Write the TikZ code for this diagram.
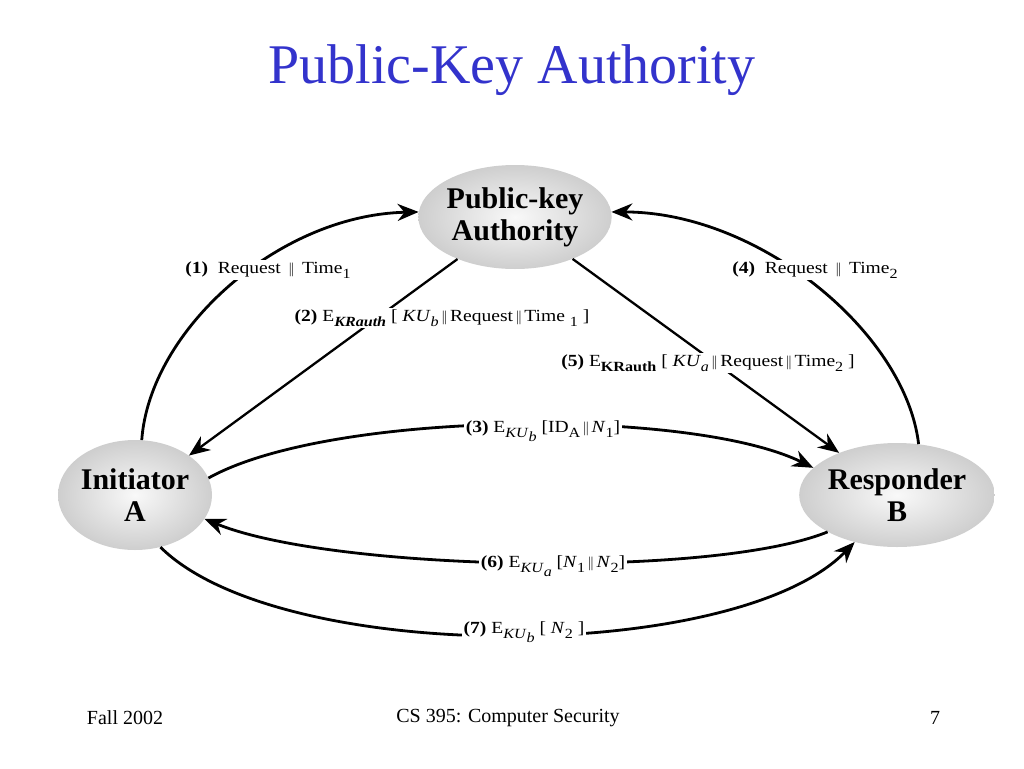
\documentclass[tikz,border=0pt]{standalone}
\usepackage{fontspec}
\setmainfont{Liberation Serif}
\usetikzlibrary{shapes.geometric,arrows.meta}
\definecolor{titleblue}{RGB}{51,51,204}
\pgfdeclareradialshading{nodeball}{\pgfpoint{0bp}{0bp}}{color(0bp)=(gray!5); color(30bp)=(gray!45); color(50bp)=(gray!105!black)}
\newcommand{\lo}[1]{\raisebox{-0.3em}{\fontsize{14}{14}\selectfont #1}}
\newcommand{\dbar}{\,{\fontsize{15}{15}\selectfont\addfontfeatures{FakeStretch=0.7}||}\,}

\begin{document}
\begin{tikzpicture}[x=1pt, y=-1pt,
	party/.style={ellipse, shading=nodeball, inner sep=0pt, align=center,
		font=\fontsize{30}{32}\selectfont\bfseries},
	msg/.style={line width=2.8pt, -{Stealth[length=21pt,width=17pt]}},
	lbl/.style={fill=white, inner sep=1.5pt, xscale=1.15, transform shape,
		font=\fontsize{17}{19}\selectfont}]
{
	\useasboundingbox (0,0) rectangle (1024,768);
	\node[text=titleblue, font=\fontsize{56}{60}\selectfont] (Title) at (512,70) {Public-Key Authority};

	\node[party, minimum width=152pt, minimum height=104pt] (auth) at (515,217) {Public-key\\Authority};
	\node[party, minimum width=154pt, minimum height=110pt] (initA) at (135,495) {Initiator\\A};
	\node[party, minimum width=156pt, minimum height=104pt] (respB) at (897,495) {Responder\\B};

	\draw[msg] (initA.83) .. controls +(8,-110) and +(-140,3) .. (auth.177);
	\draw[msg, line width=2.3pt] (auth) -- (initA);
	\draw[msg] (initA.13) .. controls +(122,-68) and +(-122,-60) .. (respB.162);
	\draw[msg] (respB.67) .. controls +(-13,-111) and +(148,0) .. (auth.3);
	\draw[msg, line width=2.3pt] (auth) -- (respB);
	\draw[msg] (respB.208) .. controls +(-116,47) and +(127,52) .. (initA.341);
	\draw[msg] (initA.296) .. controls +(120,119) and +(-118,122) .. (respB.228);

	\node[lbl] (l1) at (268,270) {\textbf{(1)}~ Request \dbar{} Time\lo{1}};
	\node[lbl] (l2) at (442,318) {\textbf{(2)} E\lo{\textbf{\textit{KRauth}}} [ \textit{KU}\lo{\textit{b}}\dbar Request\dbar Time \lo{1} ]};
	\node[lbl] (l3) at (543,431) {\textbf{(3)} E\lo{\textit{KU}\lo{\textit{b}}} [ID\lo{A}\dbar\textit{N}\lo{1}]};
	\node[lbl] (l4) at (815,270) {\textbf{(4)}~ Request \dbar{} Time\lo{2}};
	\node[lbl] (l5) at (708,363) {\textbf{(5)} E\lo{\textbf{KRauth}} [ \textit{KU}\lo{\textit{a}}\dbar Request\dbar Time\lo{2} ]};
	\node[lbl] (l6) at (553,566) {\textbf{(6)} E\lo{\textit{KU}\lo{\textit{a}}} [\textit{N}\lo{1}\dbar\textit{N}\lo{2}]};
	\node[lbl] (l7) at (524,632) {\textbf{(7)} E\lo{\textit{KU}\lo{\textit{b}}} [ \textit{N}\lo{2} ]};

	\node[font=\fontsize{20}{22}\selectfont] (Date) at (125,718) {Fall 2002};
	\node[font=\fontsize{20}{22}\selectfont] (Course) at (508,718) {CS 395: Computer Security};
	\node[font=\fontsize{20}{22}\selectfont] (Page) at (935,718) {7};
}
\end{tikzpicture}
\end{document}
